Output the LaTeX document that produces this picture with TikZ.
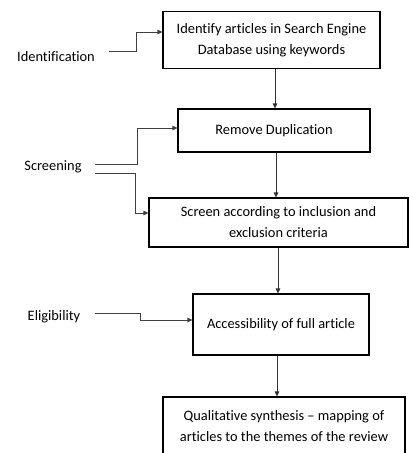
\documentclass[tikz,border=0pt]{standalone}
\usepackage{fontspec}
\setmainfont{Carlito}[Ligatures={NoCommon}]
\usetikzlibrary{arrows.meta}
\begin{document}
\begin{tikzpicture}[x=1pt,y=-1pt,
  box/.style={draw=black,line width=1.1pt,inner sep=0pt,align=center,
    font=\fontsize{14.4}{21}\selectfont},
  lbl/.style={inner sep=0pt,font=\fontsize{14.4}{17}\selectfont},
  conn/.style={draw=black!75,line width=0.8pt,-{Triangle[length=5pt,width=4.5pt]}},
  flow/.style={draw=black!80,line width=0.9pt,-{Triangle[length=5pt,width=4.5pt]}}]
\useasboundingbox (0,0) rectangle (409,453);
\clip (0,0) rectangle (409,453);
\node[box,minimum width=217pt,minimum height=57pt] (b1) at (271.5,40) {Identify articles in Search Engine\\Database using keywords};
\node[box,minimum width=192pt,minimum height=43pt] (b2) at (274,130.5) {Remove Duplication};
\node[box,minimum width=259pt,minimum height=49pt] (b3) at (278.5,222.5) {Screen according to inclusion and\\exclusion criteria};
\node[box,minimum width=176pt,minimum height=61pt] (b4) at (281,324.5) {Accessibility of full article};
\node[box,minimum width=242pt,minimum height=58pt] (b5) at (284,426) {Qualitative synthesis -- mapping of\\articles to the themes of the review};
\node[lbl] (identification) at (56,57) {Identification};
\node[lbl] (screening) at (53,167) {Screening};
\node[lbl] (eligibility) at (54,317) {Eligibility};
\coordinate (i0) at (109,51);
\coordinate (s0) at (95,164);
\coordinate (s1) at (95,173);
\coordinate (e0) at (95,313);
\draw[conn] (i0) -- (136,51) -- (136,32) -- (b1.west |- 0,32);
\draw[conn] (s0) -- (137,164) -- (137,128) -- (b2.west |- 0,128);
\draw[conn] (s1) -- (135,173) -- (135,213) -- (b3.west |- 0,213);
\draw[conn] (e0) -- (140,313) -- (140,320) -- (b4.west |- 0,320);
\draw[flow] (b1.south -| 275,0) -- (b2.north -| 275,0);
\draw[flow] (b2.south -| 276,0) -- (b3.north -| 276,0);
\draw[flow] (b3.south -| 278,0) -- (b4.north -| 278,0);
\draw[flow] (b4.south -| 277,0) -- (b5.north -| 277,0);
\end{tikzpicture}
\end{document}
